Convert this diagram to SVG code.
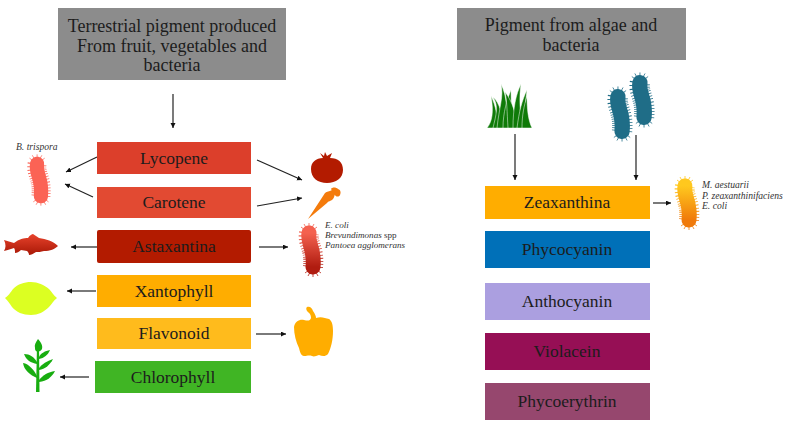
<svg xmlns="http://www.w3.org/2000/svg" width="788" height="431" viewBox="0 0 788 431">
<style>
text{font-family:"Liberation Serif","DejaVu Serif",serif;fill:#1c1c1c}
.t{font-size:18px;text-anchor:middle}
.l{font-size:17.5px;text-anchor:middle}
.s{font-size:9.6px;font-style:italic;fill:#333}
.e{font-size:9.1px}
.n{font-style:normal}
.c{stroke:#222;stroke-width:1.2;fill:none;marker-end:url(#a)}
.g{fill:#8c8c8c}
#grass path{stroke:#fff;stroke-width:.5}
</style>
<defs>
<marker id="a" markerWidth="6" markerHeight="6" refX="5" refY="2.5" orient="auto" markerUnits="userSpaceOnUse"><path d="M0 0L5 2.5L0 5Z" fill="#111"/></marker>
<linearGradient id="gr" x1="0" y1="0" x2="0" y2="1"><stop offset="0" stop-color="#f4614f"/><stop offset="1" stop-color="#b01c10"/></linearGradient>
<linearGradient id="go" x1="0" y1="0" x2="0" y2="1"><stop offset="0" stop-color="#ffc81e"/><stop offset="1" stop-color="#f07a0a"/></linearGradient>
<linearGradient id="gf" x1="0" y1="0" x2="0" y2="1"><stop offset="0" stop-color="#e8432c"/><stop offset="1" stop-color="#a81806"/></linearGradient>
<path id="bac" d="M-2 -17C-4 -6 4 -2 2 17" fill="none"/>
<g id="bug" fill="none">
<use href="#bac" stroke-width="20" stroke-dasharray="0.8 1.8"/>
<path stroke-width="0.8" d="M-2 -17V-27M-2 -17L-7 -26M-2 -17L3 -26M-2 -17L-10 -23M-2 -17L6 -23M2 17V27M2 17L-3 26M2 17L7 26M2 17L-6 23M2 17L10 23"/>
<use href="#bac" stroke-width="15" stroke-linecap="round"/>
</g>
</defs>

<g id="connectors">
<path class="c" d="M173 94V128"/>
<path class="c" d="M97 157L66 172"/>
<path class="c" d="M93 197L65 184"/>
<path class="c" d="M97 247H71"/>
<path class="c" d="M96 291H67"/>
<path class="c" d="M89 377H60"/>
<path class="c" d="M257 160L302 180"/>
<path class="c" d="M257 206L302 198"/>
<path class="c" d="M259 247H288"/>
<path class="c" d="M256 334H286"/>
<path class="c" d="M515 134V180"/>
<path class="c" d="M636 135V180"/>
<path class="c" d="M653 203H671"/>
</g>

<g id="terrestrial-title"><rect class="g" x="58" y="8" width="228" height="72"/><text class="t" x="172" y="32">Terrestrial pigment produced</text><text class="t" x="172" y="52">From fruit, vegetables and</text><text class="t" x="172" y="71">bacteria</text></g>
<g id="algae-title"><rect class="g" x="457" y="8" width="229" height="52"/><text class="t" x="571" y="31">Pigment from algae and</text><text class="t" x="571" y="51">bacteria</text></g>

<g id="lycopene"><rect x="97" y="142" width="154" height="32" fill="#dc3f2b"/><text class="l" x="174" y="164">Lycopene</text></g>
<g id="carotene"><rect x="97" y="187" width="154" height="31" fill="#e24a32"/><text class="l" x="174" y="208">Carotene</text></g>
<g id="astaxantina"><rect x="97" y="230" width="154" height="33" rx="2" fill="#b31b00"/><text class="l" x="174" y="252">Astaxantina</text></g>
<g id="xantophyll"><rect x="97" y="275" width="154" height="32" fill="#ffad00"/><text class="l" x="174" y="297">Xantophyll</text></g>
<g id="flavonoid"><rect x="97" y="318" width="154" height="31" fill="#ffbb1c"/><text class="l" x="174" y="339">Flavonoid</text></g>
<g id="chlorophyll"><rect x="95" y="361" width="156" height="32" fill="#40b524"/><text class="l" x="173" y="383">Chlorophyll</text></g>

<g id="zeaxanthina"><rect x="485" y="186" width="165" height="33" fill="#ffad00"/><text class="l" x="567" y="208">Zeaxanthina</text></g>
<g id="phycocyanin"><rect x="485" y="231" width="165" height="37" fill="#0070b8"/><text class="l" x="567" y="255">Phycocyanin</text></g>
<g id="anthocyanin"><rect x="485" y="283" width="165" height="37" fill="#ab9fe0"/><text class="l" x="567" y="307">Anthocyanin</text></g>
<g id="violacein"><rect x="485" y="333" width="165" height="37" fill="#960f55"/><text class="l" x="567" y="357">Violacein</text></g>
<g id="phycoerythrin"><rect x="485" y="383" width="165" height="37" fill="#96476e"/><text class="l" x="567" y="407">Phycoerythrin</text></g>

<g id="b-trispora"><text class="s" x="16" y="150">B. trispora</text><use href="#bug" transform="translate(39 180) scale(.95)" stroke="#fb6355"/></g>
<g id="fish"><path fill="url(#gf)" d="M4 240L14 243C19 239 24 238 28 238C30 235 32 234 33 234C35 235 37 237 39 238C46 239 53 241 58 246C55 249 50 251 44 251C41 252 38 252 36 252C33 254 31 255 29 255C29 253 28 252 27 251L21 250C19 252 17 253 15 253C15 251 15 249 14 248C11 249 8 250 4 251C6 248 6 244 4 240Z"/></g>
<g id="tomato"><path fill="#b31b00" d="M320 153L324 156L325 152L327 156L332 153L330 158C338 158 343 162 343 170C343 178 336 183 327 183C318 183 311 178 311 169C311 162 316 158 323 158Z"/></g>
<g id="carrot"><path fill="#f47b0c" d="M308 219L325 193C327 191 329 192 332 190L335 194C334 197 334 198 332 200C331 201 328 201 327 203ZM331 189C332 187 336 187 338 189C341 190 341 193 340 195C339 197 336 197 335 195Z"/></g>
<g id="e-coli-group"><use href="#bug" transform="translate(311 250)" stroke="url(#gr)"/><text class="s e" x="325" y="228">E. coli</text><text class="s e" x="325" y="238">Brevundimonas <tspan class="n">spp</tspan></text><text class="s e" x="325" y="248">Pantoea agglomerans</text></g>
<g id="lemon"><path fill="#dcff22" d="M5 298C9 295 10 293 13 289C18 284 24 282 31 282C38 282 44 285 49 289C52 292 53 295 57 298C53 301 52 304 49 307C44 312 38 315 31 315C23 315 16 312 12 307C10 304 8 301 5 298Z"/></g>
<g id="pepper"><path fill="#ffad00" d="M307 307C310 306 312 308 313 311C315 314 316 316 316 318C321 316 325 318 329 319C332 321 333 325 333 331C333 340 331 348 328 354C325 357 322 356 319 355C316 356 314 357 312 356C309 355 307 356 304 356C301 356 300 352 299 348C296 342 294 334 294 327C295 321 300 319 304 320C308 321 310 321 311 318C311 314 309 313 307 311C306 309 306 308 307 307Z"/></g>
<g id="plant" fill="#18ad10"><path d="M36 392L37 345H39L39.500 392Z"/><path d="M38 339C41 342 43 346 42 349C41 351 39 351 38 352C36 351 35 351 35 348C34 345 36 342 38 339Z"/><path d="M39 357C41 353 45 351 50 350C48 355 44 358 39 359Z"/><path d="M37 362C34 357 30 354 24 354C26 360 31 363 37 364Z"/><path d="M39 368C42 364 47 361 53 359C50 365 45 369 39 370Z"/><path d="M37 376C34 370 29 364 23 363C24 370 30 375 37 378Z"/><path d="M39 380C43 375 48 372 55 371C52 377 47 381 39 382Z"/></g>
<g id="grass" fill="#0f7a08"><path d="M487 128C492 122 494 112 491 96C496 106 498 118 497 128Z"/><path d="M493 128C496 115 499 106 493 97C500 103 503 116 502 128Z"/><path d="M497 128C499 108 504 96 501 84C507 96 508 112 505 128Z"/><path d="M503 128C503 112 507 100 511 90C511 103 512 116 513 128Z"/><path d="M508 128C507 112 507 100 505 92C513 102 516 115 517 128Z"/><path d="M513 128C513 108 516 94 521 84C519 96 520 112 522 128Z"/><path d="M517 128C519 112 522 100 527 90C525 102 525 115 526 128Z"/><path d="M522 128C522 115 524 106 527 96C527 108 528 120 532 128Z"/></g>
<g id="algae-bacteria" stroke="#1f6d87"><use href="#bug" transform="translate(620 114) scale(1.02)"/><use href="#bug" transform="translate(642 100) scale(1.02)"/></g>
<g id="m-aestuarii-group"><use href="#bug" transform="translate(687 203)" stroke="url(#go)"/><text class="s" x="702" y="188">M. aestuarii</text><text class="s" x="702" y="198.500">P. zeaxanthinifaciens</text><text class="s" x="702" y="209">E. coli</text></g>
</svg>
